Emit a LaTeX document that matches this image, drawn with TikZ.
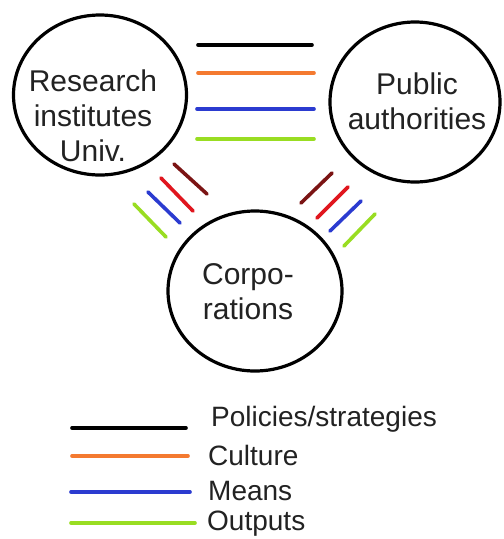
\documentclass[tikz,border=0pt]{standalone}
\usepackage{fontspec}
\setmainfont{Liberation Sans}
\usetikzlibrary{shapes.geometric}
\definecolor{txt}{HTML}{222222}
\definecolor{corange}{HTML}{F47A30}
\definecolor{cblue}{HTML}{2B3BD0}
\definecolor{cgreen}{HTML}{99DD22}
\definecolor{cdred}{HTML}{7B1414}
\definecolor{cred}{HTML}{E0161E}
\tikzset{
  actor/.style={draw=black, line width=3.2pt, ellipse, inner sep=0pt, text=txt, align=center},
  actortxt/.style={text=txt, align=center, font=\fontsize{30}{35}\selectfont},
  bar/.style={line width=3.6pt, line cap=round},
  legtxt/.style={anchor=west, text=txt, inner sep=0pt, font=\fontsize{28}{32}\selectfont}
}
\begin{document}
\begin{tikzpicture}[x=1pt,y=-1pt]
\useasboundingbox (0,0) rectangle (504,539);
\fill[white] (0,0) rectangle (504,539);
% actors
\node[actor, minimum width=173pt, minimum height=160pt] (res) at (100,95) {};
\node[actortxt] (restxt) at (93,116) {Research\\institutes\\Univ.};
\node[actor, minimum width=170pt, minimum height=160pt] (pub) at (415,102) {};
\node[actortxt] (pubtxt) at (417,101) {Public\\authorities};
\node[actor, minimum width=174pt, minimum height=160pt] (corp) at (255,291) {};
\node[actortxt] (corptxt) at (248,292) {Corpo-\\rations};
% horizontal bars
\coordinate (h1a) at (198,45);  \coordinate (h1b) at (312,45);
\coordinate (h2a) at (198,73);  \coordinate (h2b) at (314,73);
\coordinate (h3a) at (197,109); \coordinate (h3b) at (314,109);
\coordinate (h4a) at (197,139); \coordinate (h4b) at (314,139);
\draw[bar, black] (h1a) -- (h1b);
\draw[bar, corange] (h2a) -- (h2b);
\draw[bar, cblue] (h3a) -- (h3b);
\draw[bar, cgreen] (h4a) -- (h4b);
% left diagonal bars
\coordinate (l1a) at (174,164); \coordinate (l1b) at (207,194);
\coordinate (l2a) at (161,178); \coordinate (l2b) at (193,211);
\coordinate (l3a) at (148,192); \coordinate (l3b) at (180,223);
\coordinate (l4a) at (134,204); \coordinate (l4b) at (166,237);
\draw[bar, cdred] (l1a) -- (l1b);
\draw[bar, cred] (l2a) -- (l2b);
\draw[bar, cblue] (l3a) -- (l3b);
\draw[bar, cgreen] (l4a) -- (l4b);
% right diagonal bars
\coordinate (r1a) at (332,173); \coordinate (r1b) at (301,203);
\coordinate (r2a) at (348,187); \coordinate (r2b) at (317,218);
\coordinate (r3a) at (361,201); \coordinate (r3b) at (330,231);
\coordinate (r4a) at (375,214); \coordinate (r4b) at (344,246);
\draw[bar, cdred] (r1a) -- (r1b);
\draw[bar, cred] (r2a) -- (r2b);
\draw[bar, cblue] (r3a) -- (r3b);
\draw[bar, cgreen] (r4a) -- (r4b);
% legend
\coordinate (k1a) at (72,428); \coordinate (k1b) at (186,428);
\coordinate (k2a) at (72,456); \coordinate (k2b) at (188,456);
\coordinate (k3a) at (71,492); \coordinate (k3b) at (190,492);
\coordinate (k4a) at (71,523); \coordinate (k4b) at (195,523);
\draw[bar, black] (k1a) -- (k1b);
\draw[bar, corange] (k2a) -- (k2b);
\draw[bar, cblue] (k3a) -- (k3b);
\draw[bar, cgreen] (k4a) -- (k4b);
\node[legtxt] (lp) at (211,419) {Policies/strategies};
\node[legtxt] (lc) at (208,455) {Culture};
\node[legtxt] (lm) at (208,491) {Means};
\node[legtxt] (lo) at (207,524) {Outputs};
\end{tikzpicture}
\end{document}
